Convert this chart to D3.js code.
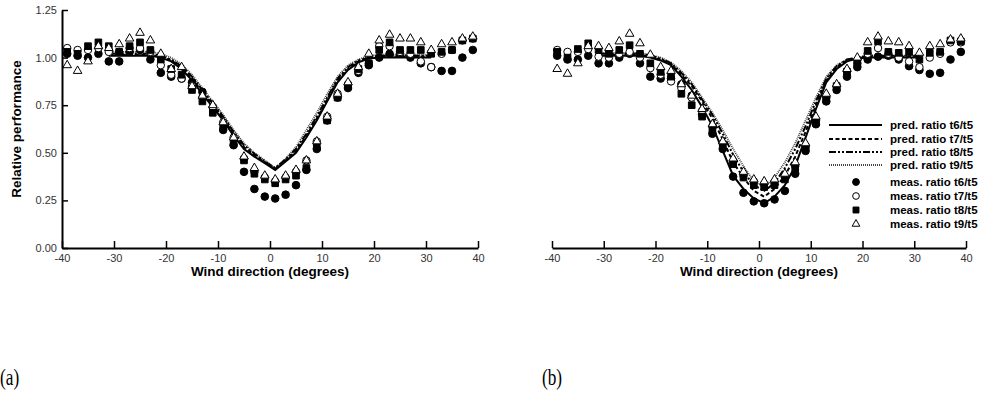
<!DOCTYPE html>
<html><head><meta charset="utf-8">
<script src="https://cdn.jsdelivr.net/npm/d3@7"></script>
<style>body{margin:0;background:#fff} svg{display:block}</style>
</head><body><svg id="c" width="984" height="396"></svg>
<script>
const xTicks=[-40,-30,-20,-10,0,10,20,30,40];
const yTicks=[0,0.25,0.5,0.75,1.0,1.25];
const degMeas=[-39,-37,-35,-33,-31,-29,-27,-25,-23,-21,-19,-17,-15,-13,-11,-9,-7,-5,-3,-1,1,3,5,7,9,11,13,15,17,19,21,23,25,27,29,31,33,35,37,39];
const degPred=[-31,-29,-27,-25,-23,-21,-19,-17,-15,-13,-11,-9,-7,-5,-3,-1,1,3,5,7,9,11,13,15,17,19,21,23,25,27,29,31];

// panel (a)
const predA_t6=[1.01,1.01,1.01,1.01,1.01,1.00,0.98,0.94,0.88,0.81,0.74,0.67,0.59,0.52,0.48,0.445,0.41,0.455,0.50,0.58,0.67,0.77,0.87,0.935,0.975,0.995,1.00,1.00,1.00,1.00,1.00,1.00];
const predA_t7=[1.015,1.015,1.015,1.015,1.015,1.005,0.985,0.95,0.89,0.82,0.75,0.68,0.60,0.53,0.49,0.45,0.415,0.46,0.51,0.59,0.68,0.78,0.88,0.94,0.98,1.0,1.005,1.005,1.005,1.005,1.005,1.005];
const predA_t8=[1.02,1.02,1.02,1.02,1.02,1.01,0.99,0.955,0.90,0.83,0.76,0.69,0.61,0.54,0.495,0.455,0.42,0.465,0.52,0.60,0.69,0.79,0.89,0.95,0.985,1.0,1.01,1.01,1.01,1.01,1.01,1.01];
const predA_t9=[1.03,1.03,1.03,1.03,1.03,1.02,1.00,0.965,0.91,0.84,0.77,0.70,0.62,0.55,0.50,0.46,0.42,0.47,0.53,0.62,0.71,0.81,0.90,0.96,0.99,1.01,1.015,1.015,1.015,1.015,1.015,1.015];
const measA_t6=[1.02,1.01,1.00,1.02,0.98,0.98,1.03,1.04,0.99,0.92,0.90,0.89,0.87,0.82,0.74,0.62,0.54,0.40,0.31,0.27,0.26,0.28,0.33,0.41,0.52,0.67,0.79,0.84,0.92,0.96,1.00,1.02,1.02,1.00,0.97,0.95,0.93,0.93,1.00,1.04];
const measA_t7=[1.05,1.04,1.04,1.05,1.03,1.03,1.05,1.05,1.03,0.96,0.91,0.89,0.85,0.79,0.74,0.66,0.58,0.47,0.40,0.37,0.35,0.37,0.40,0.46,0.56,0.69,0.81,0.86,0.93,0.97,1.06,1.06,1.03,1.02,0.98,0.95,1.02,1.04,1.09,1.10];
const measA_t8=[1.03,1.02,1.06,1.08,1.06,1.03,1.06,1.08,1.04,0.99,0.94,0.91,0.83,0.77,0.71,0.64,0.55,0.46,0.39,0.36,0.34,0.36,0.38,0.42,0.53,0.67,0.79,0.85,0.94,0.97,1.04,1.08,1.04,1.04,1.04,1.02,1.03,1.04,1.09,1.10];
const measA_t9=[0.96,0.93,0.98,1.06,1.05,1.07,1.10,1.13,1.09,1.02,0.94,0.95,0.85,0.80,0.75,0.66,0.58,0.48,0.42,0.38,0.36,0.38,0.41,0.46,0.56,0.69,0.81,0.87,0.95,1.02,1.09,1.12,1.10,1.10,1.08,1.04,1.07,1.08,1.10,1.11];

// panel (b)
const predB_t6=[1.01,1.01,1.01,1.01,1.01,1.00,0.985,0.96,0.90,0.83,0.74,0.64,0.51,0.38,0.31,0.26,0.235,0.27,0.33,0.43,0.58,0.73,0.87,0.94,0.98,0.995,1.00,1.00,1.00,1.00,1.00,1.00];
const predB_t7=[1.015,1.015,1.015,1.015,1.015,1.005,0.99,0.965,0.91,0.85,0.77,0.68,0.57,0.45,0.37,0.30,0.27,0.31,0.38,0.48,0.61,0.75,0.88,0.95,0.985,1.0,1.005,1.005,1.005,1.005,1.005,1.005];
const predB_t8=[1.02,1.02,1.02,1.02,1.02,1.01,0.995,0.97,0.92,0.86,0.78,0.70,0.60,0.49,0.40,0.33,0.30,0.34,0.42,0.52,0.64,0.77,0.89,0.955,0.99,1.0,1.01,1.01,1.01,1.01,1.01,1.01];
const predB_t9=[1.025,1.025,1.025,1.025,1.025,1.015,1.0,0.975,0.93,0.87,0.79,0.71,0.62,0.52,0.43,0.35,0.32,0.37,0.45,0.55,0.67,0.79,0.90,0.96,0.99,1.0,1.01,1.01,1.01,1.01,1.01,1.01];
const measB_t6=[1.01,0.99,0.99,1.01,0.97,0.97,1.00,1.02,0.97,0.90,0.89,0.89,0.86,0.80,0.70,0.60,0.52,0.375,0.29,0.245,0.235,0.255,0.30,0.39,0.51,0.65,0.77,0.83,0.90,0.95,0.99,1.005,1.01,0.99,0.955,0.935,0.915,0.92,0.99,1.03];
const measB_t7=[1.04,1.03,1.03,1.045,1.005,1.00,1.02,1.03,1.00,0.945,0.91,0.875,0.84,0.79,0.72,0.64,0.55,0.45,0.38,0.35,0.335,0.34,0.37,0.43,0.53,0.67,0.79,0.85,0.93,0.97,1.02,1.05,1.02,1.00,0.98,0.95,1.00,1.02,1.08,1.08];
const measB_t8=[1.03,1.00,1.045,1.075,1.04,1.02,1.04,1.065,1.02,0.97,0.925,0.90,0.81,0.75,0.69,0.62,0.53,0.44,0.37,0.33,0.32,0.33,0.36,0.42,0.53,0.66,0.78,0.85,0.925,0.97,1.035,1.085,1.03,1.025,1.03,0.99,1.025,1.03,1.09,1.085];
const measB_t9=[0.94,0.915,0.97,1.06,1.06,1.05,1.085,1.125,1.075,1.015,0.95,0.93,0.86,0.80,0.73,0.65,0.56,0.47,0.40,0.36,0.35,0.36,0.39,0.45,0.55,0.69,0.81,0.86,0.94,1.00,1.08,1.11,1.085,1.08,1.06,1.025,1.06,1.07,1.095,1.10];

const predNames=["pred. ratio t6/t5","pred. ratio t7/t5","pred. ratio t8/t5","pred. ratio t9/t5"];
const measNames=["meas. ratio t6/t5","meas. ratio t7/t5","meas. ratio t8/t5","meas. ratio t9/t5"];

const FONT="'Liberation Sans', Arial, sans-serif";
const lineStyles=[
  {w:2,dash:null,c:"#000"},
  {w:2,dash:"4,2.5",c:"#000"},
  {w:2,dash:"7,2,2,2,2,2",c:"#000"},
  {w:1.8,dash:"1,1",c:"#444"}
];
const markStyles=[
  {type:d3.symbolCircle,size:46,fill:"#000",stroke:"#000"},
  {type:d3.symbolCircle,size:44,fill:"#fff",stroke:"#000"},
  {type:d3.symbolSquare,size:44,fill:"#000",stroke:"#000"},
  {type:d3.symbolTriangle,size:32,fill:"#fff",stroke:"#000"}
];

const svg=d3.select("#c");
const y=d3.scaleLinear().domain([0,1.25]).range([248,10]);

const panels=[
  {x0:62,x1:478,yAxis:true,legend:false,pred:[predA_t6,predA_t7,predA_t8,predA_t9],meas:[measA_t6,measA_t7,measA_t8,measA_t9],tag:"(a)",tagX:0},
  {x0:552,x1:966,yAxis:false,legend:true,pred:[predB_t6,predB_t7,predB_t8,predB_t9],meas:[measB_t6,measB_t7,measB_t8,measB_t9],tag:"(b)",tagX:542}
];

panels.forEach(p=>{
  const x=d3.scaleLinear().domain([-40,40]).range([p.x0,p.x1]);
  const g=svg.append("g");
  const ln=d3.line().x((d,i)=>x(degPred[i])).y(d=>y(d));
  [3,2,1,0].forEach(k=>{
    const s=lineStyles[k];
    g.append("path").attr("d",ln(p.pred[k])).attr("fill","none")
      .attr("stroke",s.c).attr("stroke-width",s.w)
      .attr("stroke-dasharray",s.dash);
  });
  [0,1,2,3].forEach(k=>{
    const m=markStyles[k];
    const sym=d3.symbol().type(m.type).size(m.size);
    g.selectAll(null).data(p.meas[k]).enter().append("path")
      .attr("d",sym)
      .attr("transform",(d,i)=>`translate(${x(degMeas[i])},${y(d)})`)
      .attr("fill",m.fill).attr("stroke",m.stroke).attr("stroke-width",1);
  });
  const xa=g.append("g").attr("transform","translate(0,248)")
    .call(d3.axisBottom(x).tickValues(xTicks).tickSizeInner(-7).tickSizeOuter(0).tickPadding(6).tickFormat(d=>String(d)));
  xa.select(".domain").attr("stroke-width",2);
  xa.selectAll(".tick line").attr("stroke-width",1.5);
  xa.selectAll("text").attr("font-family",FONT).attr("font-size",11).attr("fill","#333");
  if(p.yAxis){
    const ya=g.append("g").attr("transform",`translate(${p.x0},0)`)
      .call(d3.axisLeft(y).tickValues(yTicks).tickSizeInner(-6).tickSizeOuter(0).tickPadding(5).tickFormat(d3.format(".2f")));
    ya.select(".domain").attr("stroke-width",2);
    ya.selectAll(".tick line").attr("stroke-width",1.5);
    ya.selectAll("text").attr("font-family",FONT).attr("font-size",11).attr("fill","#333");
    svg.append("text").attr("transform",`translate(21,129) rotate(-90)`)
      .attr("text-anchor","middle").attr("font-family",FONT).attr("font-weight","bold")
      .attr("font-size",13.5).text("Relative performance");
  }
  svg.append("text").attr("x",(p.x0+p.x1)/2).attr("y",276).attr("text-anchor","middle")
    .attr("font-family",FONT).attr("font-weight","bold").attr("font-size",13.5)
    .text("Wind direction (degrees)");
  svg.append("text").attr("transform",`translate(${p.tagX},385) scale(0.75,1)`)
    .attr("font-family","'Liberation Serif','Times New Roman',serif").attr("font-size",23)
    .text(p.tag);
  if(p.legend){
    const rows=[125,139,152,165,182,196,210,224];
    const lg=svg.append("g");
    [0,1,2,3].forEach(k=>{
      const s=lineStyles[k];
      lg.append("line").attr("x1",829).attr("x2",882).attr("y1",rows[k]).attr("y2",rows[k])
        .attr("stroke",s.c).attr("stroke-width",s.w).attr("stroke-dasharray",s.dash);
      lg.append("text").attr("x",890).attr("y",rows[k]+4).attr("font-family",FONT)
        .attr("font-weight","bold").attr("font-size",11.5).text(predNames[k]);
    });
    [0,1,2,3].forEach(k=>{
      const m=markStyles[k];
      const sym=d3.symbol().type(m.type).size(m.size*0.8);
      lg.append("path").attr("d",sym).attr("transform",`translate(856,${rows[k+4]})`)
        .attr("fill",m.fill).attr("stroke",m.stroke).attr("stroke-width",1);
      lg.append("text").attr("x",890).attr("y",rows[k+4]+4).attr("font-family",FONT)
        .attr("font-weight","bold").attr("font-size",11.5).text(measNames[k]);
    });
  }
});
</script>
</body></html>
